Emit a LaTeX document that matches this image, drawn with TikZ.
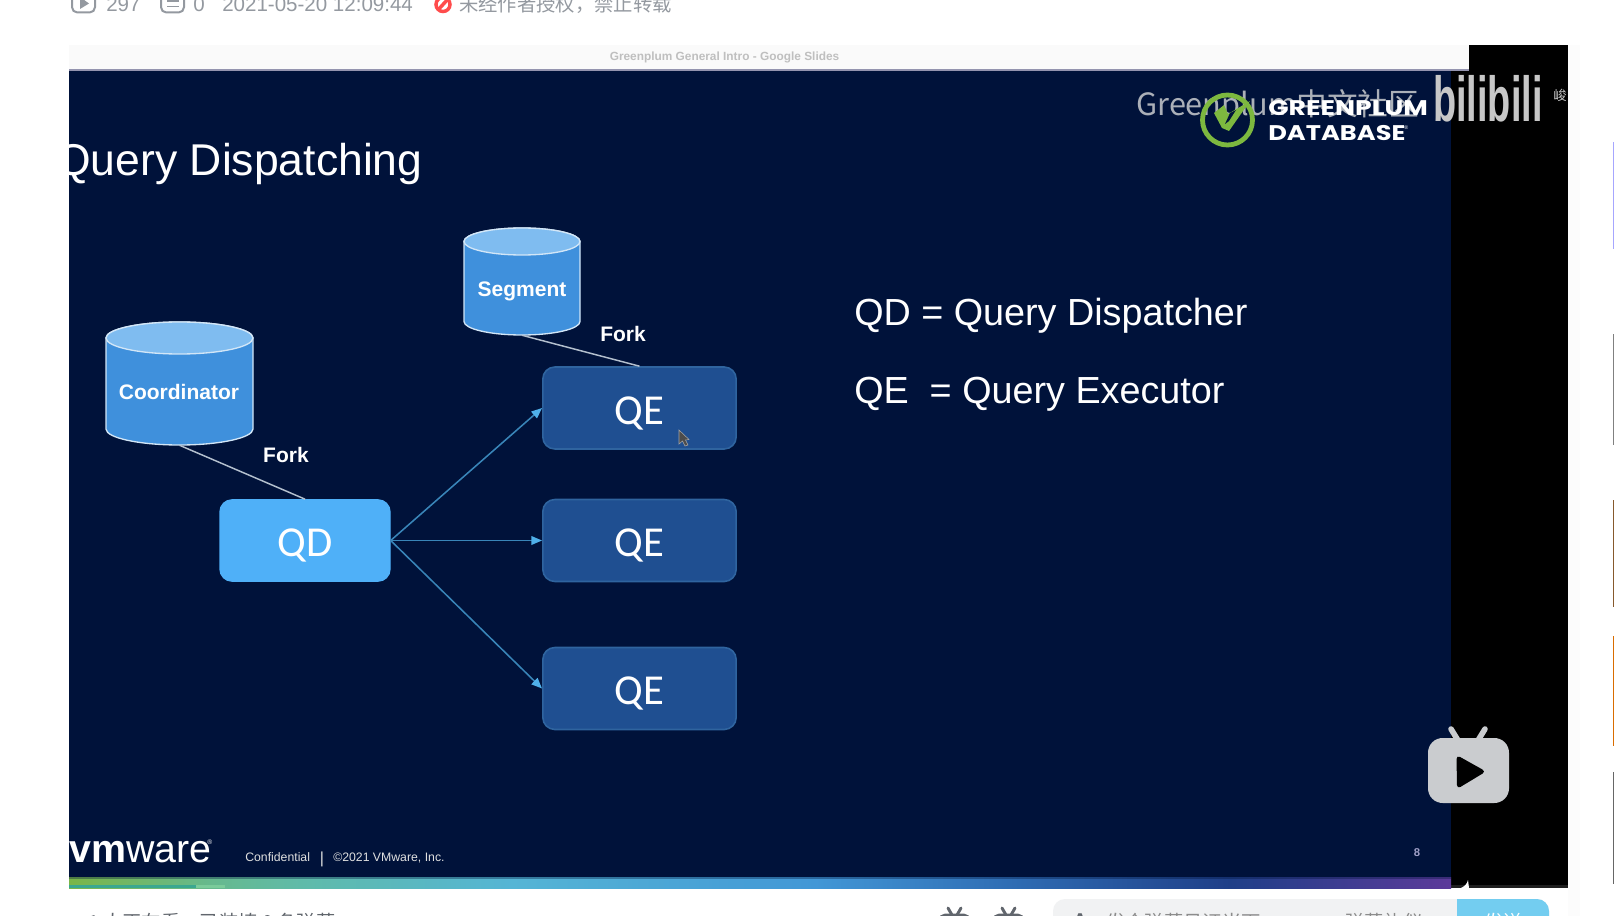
\documentclass[tikz,border=0pt]{standalone}
\usepackage{fontspec}
\usetikzlibrary{arrows.meta}
\setmainfont{Liberation Sans}
\newfontfamily\cjkf{Noto Sans CJK SC}
\newfontfamily\calib{Carlito}
\newfontfamily\logof{Poppins}
\definecolor{navy}{HTML}{00123A}
\definecolor{qdfill}{HTML}{4FB0F8}
\definecolor{qefill}{HTML}{1F4F91}
\definecolor{qeline}{HTML}{2F649F}
\definecolor{cylbody}{HTML}{3F90DC}
\definecolor{cyltop}{HTML}{7FBCF0}
\definecolor{cylline}{HTML}{D2E6F7}
\definecolor{arrowc}{HTML}{3985B8}
\definecolor{tipc}{HTML}{4FB0EA}
\definecolor{forkc}{HTML}{B4C0CE}
\definecolor{metac}{HTML}{9499A0}
\definecolor{iconc}{HTML}{61666D}
\definecolor{gpgreen}{HTML}{7DB83F}
\definecolor{pagegrey}{HTML}{F1F2F3}
\definecolor{sendc}{HTML}{73CDF0}
\definecolor{tvc}{HTML}{CACCCF}
\definecolor{sba}{HTML}{7AB648}
\definecolor{sbb}{HTML}{66B98C}
\definecolor{sbc}{HTML}{5FBBAA}
\definecolor{sbd}{HTML}{55B5D5}
\definecolor{sbe}{HTML}{4297D6}
\definecolor{sbf}{HTML}{2F6DB4}
\definecolor{sbg}{HTML}{1F3F88}
\definecolor{sbh}{HTML}{5C3A9A}
\definecolor{stripa}{HTML}{3AA890}
\definecolor{stripb}{HTML}{7ACB9A}
\pgfdeclarehorizontalshading{slidebar}{100bp}{
 color(0bp)=(sba);color(25bp)=(sba);color(30bp)=(sbb);color(33.5bp)=(sbc);
 color(41bp)=(sbd);color(52bp)=(sbe);color(59bp)=(sbf);color(67bp)=(sbg);
 color(75bp)=(sbh);color(100bp)=(sbh)}
\tikzset{
 qdbox/.style={draw=qdfill,fill=qdfill,rounded corners=9pt,line width=1pt,inner sep=0pt,
   minimum width=127.5pt,minimum height=61pt,text height=24.3pt,text depth=0pt,text=white,font=\calib\fontsize{32}{32}\selectfont},
 qebox/.style={draw=qeline,fill=qefill,rounded corners=9pt,line width=1.2pt,inner sep=0pt,
   minimum width=145pt,minimum height=61.5pt,text height=24.3pt,text depth=0pt,text=white,font=\calib\fontsize{32}{32}\selectfont},
 cylnode/.style={inner sep=0pt,text=white,font=\bfseries\fontsize{15.75}{16}\selectfont},
 forkline/.style={draw=forkc,line width=1.1pt},
 dispatch/.style={draw=arrowc,line width=1.15pt,-{Triangle[length=8pt,width=6.5pt,color=tipc]}},
 legend/.style={anchor=base west,inner sep=0pt,text=white,font=\fontsize{28.3}{30}\selectfont},
 forklabel/.style={inner sep=0pt,text=white,font=\bfseries\fontsize{15.75}{16}\selectfont},
 meta/.style={anchor=base west,inner sep=0pt,text=metac,font=\fontsize{15.4}{16}\selectfont},
 metacjk/.style={anchor=base west,inner sep=0pt,text=metac,font=\cjkf\fontsize{14.5}{15}\selectfont},
 cylbodyst/.style={fill=cylbody,draw=cylline,line width=1pt},
 cyltopst/.style={fill=cyltop,draw=cylline,line width=1pt},
}
% centre x, top y, half width, total height, end half-height (y axis points down)
\newcommand\dbcyl[5]{%
 \path[cylbodyst] ({#1-#3},{#2+#5}) -- ({#1-#3},{#2+#4-#5})
   arc[start angle=180,end angle=0,x radius=#3,y radius=#5]
   -- ({#1+#3},{#2+#5}) arc[start angle=0,end angle=-180,x radius=#3,y radius=#5] -- cycle;
 \path[cyltopst] (#1,{#2+#5}) ellipse[x radius=#3,y radius=#5];
}
\newcommand\tvicon[1]{%
 \draw[iconc,line width=2.2pt,rounded corners=4pt] ({#1},935) -- ({#1},915) -- ({#1+29},915) -- ({#1+29},935);
 \draw[iconc,line width=2.2pt,line cap=round] ({#1+8},908) -- ({#1+12},915) ({#1+21},908) -- ({#1+17},915);
}
\begin{document}
\begin{tikzpicture}[x=0.75pt,y=-0.75pt]
\useasboundingbox (0,0) rectangle (1614,916);
\clip (0,0) rectangle (1614,916);
\fill[white] (0,0) rectangle (1614,916);
\fill[white!99!black] (1568,45) rectangle (1580,916);
% right-edge slivers
\fill[blue!35!white] (1613,142) rectangle (1614,249);
\fill[black!50] (1613,334) rectangle (1614,445);
\fill[brown!70!black] (1613,500) rectangle (1614,607);
\fill[orange!85!black] (1613,636) rectangle (1614,746);
\fill[black!60] (1613,772) rectangle (1614,884);
% page header
\draw[metac,line width=1.5pt,rounded corners=4pt] (72,-6) rectangle (95,12.5);
\fill[metac] (80,-3) -- (89,3.5) -- (80,9) -- cycle;
\node[meta] (views) at (106,12) {297};
\draw[metac,line width=1.5pt,rounded corners=4pt] (161,-6) rectangle (184,12.5);
\draw[metac,line width=1.3pt] (167,1) -- (179,1) (167,6.5) -- (179,6.5);
\node[meta] (danmu) at (193,12) {0};
\node[meta] (date) at (222,12) {2021-05-20 12:09:44};
\draw[red!60!pink,line width=2.6pt] (443,4.5) circle[radius=7];
\draw[red!60!pink,line width=2.6pt] (448,-1) -- (438,10);
\node[metacjk] (notice) at (459,12) {未经作者授权，禁止转载};
% player
\fill[black] (1451,45) rectangle (1568,888);
\fill[black!88!white] (1451,885) rectangle (1568,888);
\fill[navy] (69,70) rectangle (1451,877);
\fill[black!2!white] (69,45) rectangle (1469,70);
\draw[black!25!blue!20!gray!70,line width=1.2pt] (69,70) -- (1469,70);
\node[inner sep=0pt,text=black!25,font=\bfseries\fontsize{8.9}{10}\selectfont] (tabtitle) at (724.5,57) {Greenplum General Intro - Google Slides};
\shade[shading=slidebar] (69,877) rectangle (1451,888);
\fill[navy,opacity=.35] (69,877) rectangle (1451,878.5);
\fill[stripa] (69,885) rectangle (196,888);
\fill[stripb] (196,885) rectangle (225,888);
\fill[white] (1461,888) .. controls (1465,886) and (1467,884) .. (1468,880) -- (1469,888) -- cycle;
% title
\begin{scope}
\clip (69,70) rectangle (1451,877);
\node[anchor=base west,inner sep=0pt,text=white,font=\fontsize{33.4}{35}\selectfont] (title) at (56,176) {Query Dispatching};
\end{scope}
% cylinders
\dbcyl{179.5}{322}{73.5}{123}{16}
\dbcyl{522}{228}{58}{107}{13.5}
\node[cylnode,minimum width=110.25pt,minimum height=92.25pt] (coord) at (179.5,383.5) {};
\node[cylnode,minimum width=87pt,minimum height=80.25pt] (seg) at (522,281.5) {};
\node[cylnode] (coordlabel) at (179,392) {Coordinator};
\node[cylnode] (seglabel) at (522,291) {Segment};
% boxes
\node[qdbox] (qd) at (305,540.5) {QD};
\node[qebox] (qe1) at (639.5,408) {QE};
\node[qebox] (qe2) at (639.5,540.5) {QE};
\node[qebox] (qe3) at (639.5,688.5) {QE};
% connectors
\draw[forkline] (coord.south) -- (qd.north);
\draw[forkline] (seg.south) -- (qe1.north);
\draw[dispatch] (qd.east) -- (qe1.west);
\draw[dispatch] (qd.east) -- (qe2.west);
\draw[dispatch] (qd.east) -- (qe3.west);
\node[forklabel] (fork1) at (286,455) {Fork};
\node[forklabel] (fork2) at (623,334) {Fork};
% cursor
\fill[black!70!white,draw=black!35,line width=.4pt] (679,430) -- (679,444) -- (682.5,441) -- (685,446) -- (688,445) -- (685.5,440) -- (689,439.5) -- cycle;
% legend
\node[legend] (qdtext) at (854,326) {QD = Query Dispatcher};
\node[legend] (qetext) at (854,403) {QE\ \ = Query Executor};
% footer
\node[anchor=base west,inner sep=0pt,text=white,font=\fontsize{29.5}{30}\selectfont] (vmw) at (69,862) {\textbf{vm}ware};
\node[anchor=base west,inner sep=0pt,text=white,font=\fontsize{5}{5}\selectfont] (vmr) at (207,844) {®};
\node[anchor=base west,inner sep=0pt,text=black!12,font=\fontsize{9.2}{10}\selectfont] (conf) at (245,861) {Confidential};
\node[anchor=base west,inner sep=0pt,text=black!12,font=\fontsize{12}{12}\selectfont] (sep) at (319.5,863) {|};
\node[anchor=base west,inner sep=0pt,text=black!12,font=\fontsize{9.2}{10}\selectfont] (copy) at (333,861) {©2021 VMware, Inc.};
\node[inner sep=0pt,text=blue!25!gray!60!white,font=\bfseries\fontsize{8.5}{9}\selectfont] (pageno) at (1417,853) {8};
% watermark and logo
\node[anchor=base west,inner sep=0pt,text=tvc,opacity=.85,font=\cjkf\fontsize{23}{24}\selectfont] (mark) at (1136,116) {Greenplum中文社区};
\draw[gpgreen,line width=3.6pt] (1227.5,120) circle[radius=25];
\fill[gpgreen] (1214,113) -- (1224,105) -- (1228,114) -- (1250,101) -- (1229,131) -- (1222,128) -- cycle;
\fill[navy] (1225,124) -- (1230,113) -- (1236,110) -- (1229,121) -- cycle;
\node[anchor=base west,inner sep=0pt,text=white,xscale=1.26,font=\logof\bfseries\fontsize{15.9}{16}\selectfont] (gp1) at (1268,115.5) {GREENPLUM};
\node[anchor=base west,inner sep=0pt,text=white,xscale=1.21,font=\logof\bfseries\fontsize{15.9}{16}\selectfont] (gp2) at (1268,141) {DATABASE};
\node[anchor=base west,inner sep=0pt,text=white,font=\fontsize{4}{4}\selectfont] (gpr) at (1404,130) {®};
\node[anchor=base west,inner sep=0pt,text=black!22,yscale=1.68,font=\bfseries\fontsize{28.4}{29}\selectfont] (bili) at (1433,122) {bilibili};
\begin{scope}
\clip (1451,45) rectangle (1568,888);
\node[anchor=base west,inner sep=0pt,text=black!22,font=\cjkf\fontsize{10}{10}\selectfont] (uname) at (1553,101) {峻};
\end{scope}
% play badge
\draw[tvc,line width=4.2pt,line cap=round] (1451,729) -- (1459,742) (1485,729) -- (1477,742);
\fill[tvc,rounded corners=11pt] (1428,738) rectangle (1509,803);
\fill[black,rounded corners=3pt] (1456.5,755) -- (1457,789) -- (1486,771.5) -- cycle;
% page footer
\node[metacjk,text=iconc] (online) at (88,929) {1 人正在看，已装填 0 条弹幕};
\tvicon{940}
\tvicon{994}
\fill[pagegrey,rounded corners=9pt] (1053,899) rectangle (1549,950);
\fill[sendc,rounded corners=9pt] (1457,899) -- (1549,899) -- (1549,950) -- (1457,950) -- cycle;
\fill[sendc] (1457,899) rectangle (1475,950);
\node[inner sep=0pt,text=iconc,font=\bfseries\fontsize{15}{15}\selectfont] (aicon) at (1080,921) {A};
\node[metacjk,text=black!45] (ph) at (1106,929) {发个弹幕见证当下};
\node[metacjk,text=black!45] (etq) at (1345,929) {弹幕礼仪 >};
\node[metacjk,text=white] (send) at (1484,929) {发送};
\end{tikzpicture}
\end{document}
